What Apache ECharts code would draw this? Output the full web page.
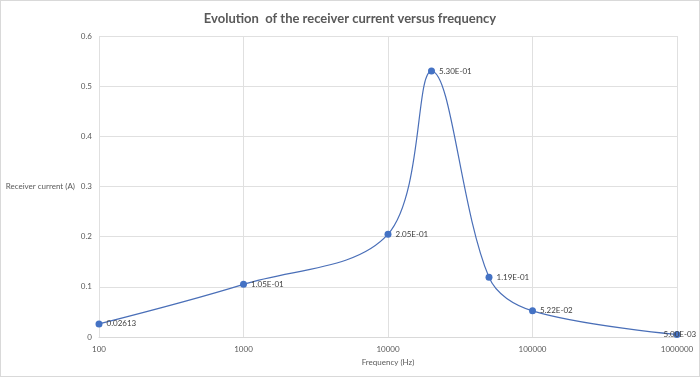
<!DOCTYPE html>
<html>
<head>
<meta charset="utf-8">
<script src="https://cdn.jsdelivr.net/npm/echarts@6/dist/echarts.min.js"></script>
<style>
  html, body { margin: 0; padding: 0; background: #fff; }
  #chart { width: 698px; height: 375px; border: 1px solid #d9d9d9; }
</style>
</head>
<body>
<div id="chart"></div>
<script>
const frequencies = [100, 1000, 10000, 20000, 50000, 100000, 1000000];
const currents = [0.02613, 0.105, 0.205, 0.53, 0.119, 0.0522, 0.005];
const pointLabels = ["0.02613", "1.05E-01", "2.05E-01", "5.30E-01", "1.19E-01", "5.22E-02", "5.00E-03"];

const chart = echarts.init(document.getElementById("chart"));
const font = "Lato, 'Open Sans', sans-serif";

const option = {
  animation: false,
  textStyle: { fontFamily: font },
  title: {
    text: "Evolution  of the receiver current versus frequency",
    left: "center",
    top: 6,
    textStyle: { fontFamily: font, fontSize: 13, fontWeight: "bold", color: "#595959" },
  },
  grid: { left: 98, right: 22, top: 35, bottom: 39 },
  xAxis: {
    type: "log",
    logBase: 10,
    min: 100,
    max: 1000000,
    name: "Frequency (Hz)",
    nameLocation: "middle",
    nameGap: 21,
    nameTextStyle: { fontSize: 8, color: "#595959" },
    axisLine: { show: true, lineStyle: { color: "#d9d9d9" } },
    axisTick: { show: false },
    axisLabel: {
      fontSize: 8,
      color: "#595959",
      margin: 8,
      formatter: (v) => String(Math.round(v)),
    },
    splitLine: { show: true, lineStyle: { color: "#e0e0e0" } },
  },
  yAxis: {
    type: "value",
    min: 0,
    max: 0.6,
    interval: 0.1,
    name: "Receiver current (A)",
    nameLocation: "middle",
    nameRotate: 0,
    nameGap: 21,
    nameTextStyle: { fontSize: 8, color: "#595959", align: "right" },
    axisLine: { show: false },
    axisTick: { show: false },
    axisLabel: {
      fontSize: 8,
      color: "#595959",
      margin: 7,
      formatter: (v) => String(Math.round(v * 10) / 10),
    },
    splitLine: { show: true, lineStyle: { color: "#e0e0e0" } },
  },
  series: [
    {
      type: "line",
      smooth: 0.35,
      data: frequencies.map((f, i) => [f, currents[i]]),
      symbol: "circle",
      symbolSize: 7,
      itemStyle: { color: "#4472c4" },
      lineStyle: { color: "#4a6fb8", width: 1.2 },
      label: {
        show: true,
        position: "right",
        distance: 4,
        fontSize: 8,
        color: "#404040",
        formatter: (p) => pointLabels[p.dataIndex],
      },
      labelLayout: (params) => {
        if (params.dataIndex === frequencies.length - 1) {
          return { dx: -21 };
        }
        return {};
      },
    },
  ],
};

chart.setOption(option);
</script>
</body>
</html>
